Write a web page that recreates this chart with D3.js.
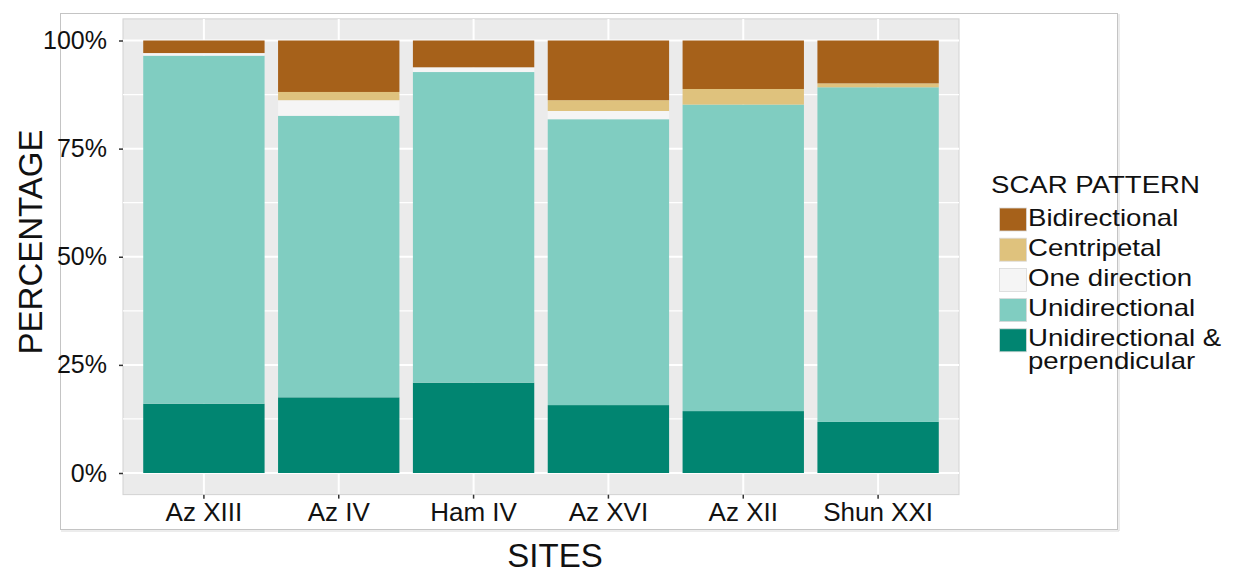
<!DOCTYPE html>
<html>
<head>
<meta charset="utf-8">
<script src="https://cdn.jsdelivr.net/npm/d3@7"></script>
<style>
  body { margin: 0; background: #fff; }
  text { font-family: "Liberation Sans", Arial, sans-serif; }
</style>
</head>
<body>
<svg id="chart" width="1234" height="574"></svg>
<script>
// sites along the x axis
var sites = ["Az XIII", "Az IV", "Ham IV", "Az XVI", "Az XII", "Shun XXI"];

// percentage of each scar pattern per site
var bidirectional  = [2.9, 11.9, 6.2, 13.8, 11.2, 9.9];
var centripetal    = [0.0, 1.9, 0.0, 2.5, 3.6, 0.9];
var oneDirection   = [0.6, 3.6, 1.1, 1.9, 0.0, 0.0];
var unidirectional = [80.4, 65.1, 71.9, 66.1, 70.8, 77.3];
var uniPerp        = [16.0, 17.5, 20.9, 15.7, 14.3, 11.8];

var patterns = ["Unidirectional & perpendicular", "Unidirectional", "One direction", "Centripetal", "Bidirectional"];
var colors = ["#018571", "#80cdc1", "#f5f5f5", "#dfc27d", "#a6611a"];
var yTicks = [0, 0.25, 0.5, 0.75, 1];

var series = [uniPerp, unidirectional, oneDirection, centripetal, bidirectional];
var rows = sites.map(function(s, i) {
  var r = { site: s };
  patterns.forEach(function(p, k) { r[p] = series[k][i]; });
  return r;
});

var svg = d3.select("#chart");

// panel geometry
var panelLeft = 123, panelRight = 959;

var x = d3.scaleBand()
  .domain(sites)
  .range([panelLeft, panelRight])
  .paddingInner(0.1)
  .paddingOuter(0.15);

var y = d3.scaleLinear()
  .domain([0, 1])
  .range([473, 40.5]);

var color = d3.scaleOrdinal().domain(patterns).range(colors);

var stack = d3.stack().keys(patterns).offset(d3.stackOffsetExpand);
var stacked = stack(rows);

// outer frame
svg.append("rect")
  .attr("x", 60.5).attr("y", 13.5)
  .attr("width", 1057).attr("height", 516)
  .attr("fill", "none").attr("stroke", "#c4c4c4").attr("stroke-width", 1);
svg.append("path")
  .attr("d", "M1119,14 V531 H61")
  .attr("fill", "none").attr("stroke", "#dadada").attr("stroke-width", 1);

// panel background
var panelTop = y(1.05), panelBottom = y(-0.05);
svg.append("rect")
  .attr("x", panelLeft).attr("y", panelTop)
  .attr("width", panelRight - panelLeft).attr("height", panelBottom - panelTop)
  .attr("fill", "#ebebeb")
  .attr("stroke", "#d2d2d2").attr("stroke-width", 1);

// grid
var grid = svg.append("g");
[0.125, 0.375, 0.625, 0.875].forEach(function(v) {
  grid.append("line")
    .attr("x1", panelLeft).attr("x2", panelRight)
    .attr("y1", y(v)).attr("y2", y(v))
    .attr("stroke", "#fff").attr("stroke-width", 1.2);
});
yTicks.forEach(function(v) {
  grid.append("line")
    .attr("x1", panelLeft).attr("x2", panelRight)
    .attr("y1", y(v)).attr("y2", y(v))
    .attr("stroke", "#fff").attr("stroke-width", 2);
});
sites.forEach(function(s) {
  var cx = x(s) + x.bandwidth() / 2;
  grid.append("line")
    .attr("x1", cx).attr("x2", cx)
    .attr("y1", panelTop).attr("y2", panelBottom)
    .attr("stroke", "#fff").attr("stroke-width", 2);
});

// bars
svg.append("g")
  .selectAll("g")
  .data(stacked)
  .enter().append("g")
    .attr("fill", function(d) { return color(d.key); })
  .selectAll("rect")
  .data(function(d) { return d; })
  .enter().append("rect")
    .attr("x", function(d) { return x(d.data.site); })
    .attr("width", x.bandwidth())
    .attr("y", function(d) { return y(d[1]); })
    .attr("height", function(d) { return y(d[0]) - y(d[1]); });

// axes
var yAxis = svg.append("g")
  .attr("transform", "translate(" + panelLeft + ",0)")
  .call(d3.axisLeft(y).tickValues(yTicks).tickFormat(d3.format(".0%")).tickSize(4).tickPadding(12));
yAxis.select(".domain").remove();
yAxis.selectAll("line").attr("stroke", "#333").attr("stroke-width", 1.5);
yAxis.selectAll("text").attr("font-size", 25).attr("fill", "#111")
  .style("font-family", "'Liberation Sans', Arial, sans-serif");

var xAxis = svg.append("g")
  .attr("transform", "translate(0," + panelBottom + ")")
  .call(d3.axisBottom(x).tickSize(4).tickPadding(4));
xAxis.select(".domain").remove();
xAxis.selectAll("line").attr("stroke", "#333").attr("stroke-width", 1.5);
xAxis.selectAll("text").attr("font-size", 26).attr("fill", "#111")
  .style("font-family", "'Liberation Sans', Arial, sans-serif");

// axis titles
svg.append("text")
  .attr("x", 555).attr("y", 567)
  .attr("text-anchor", "middle")
  .attr("font-size", 33).attr("fill", "#111")
  .text("SITES");

svg.append("text")
  .attr("transform", "translate(42,242) rotate(-90)")
  .attr("text-anchor", "middle")
  .attr("font-size", 33).attr("fill", "#111")
  .text("PERCENTAGE");

// legend
var legend = svg.append("g");
legend.append("text")
  .attr("transform", "translate(991,193) scale(1.2,1)")
  .attr("font-size", 23).attr("fill", "#111")
  .text("SCAR PATTERN");

var legendItems = patterns.slice().reverse();
legendItems.forEach(function(p, i) {
  var ky = 208 + i * 30.2;
  legend.append("rect")
    .attr("x", 999.5).attr("y", ky)
    .attr("width", 27).attr("height", 23)
    .attr("fill", color(p))
    .attr("stroke", "#d9d9d9").attr("stroke-width", 0.8);
  if (p === "Unidirectional & perpendicular") {
    legend.append("text")
      .attr("transform", "translate(1028," + (ky + 17.5) + ") scale(1.2,1)")
      .attr("font-size", 23).attr("fill", "#111")
      .text("Unidirectional &");
    legend.append("text")
      .attr("transform", "translate(1028," + (ky + 40) + ") scale(1.2,1)")
      .attr("font-size", 23).attr("fill", "#111")
      .text("perpendicular");
  } else {
    legend.append("text")
      .attr("transform", "translate(1028," + (ky + 17.5) + ") scale(1.2,1)")
      .attr("font-size", 23).attr("fill", "#111")
      .text(p);
  }
});
</script>
</body>
</html>
